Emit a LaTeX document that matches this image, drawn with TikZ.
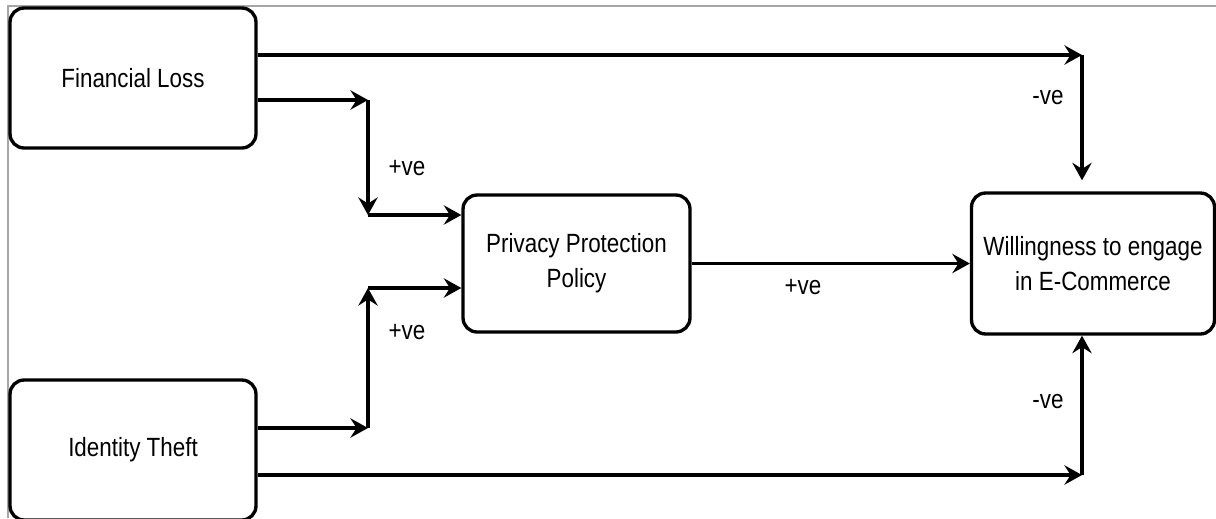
\documentclass[tikz,border=0pt]{standalone}
\usepackage{fontspec}
\setmainfont[FakeStretch=0.85]{Liberation Sans}
\usetikzlibrary{arrows.meta,positioning}

\begin{document}
\begin{tikzpicture}[
  x=0.02cm, y=-0.02cm,
  font=\fontsize{15}{20}\selectfont,
  >={Stealth[length=10pt, width=11pt, inset=3.5pt]},
  factor/.style={draw, line width=1.9pt, rounded corners=8pt, align=center, minimum width=4.92cm, minimum height=2.8cm, inner sep=2pt},
  outcome/.style={draw, line width=1.9pt, rounded corners=8pt, align=center, minimum width=4.54cm, minimum height=2.74cm, inner sep=2pt},
  link/.style={->, line width=1.9pt},
  sign/.style={inner sep=1pt}
]
  \useasboundingbox (0,0) rectangle (1216,518);
  \draw[black!35, line width=0.8pt] (8,518) -- (8,6) -- (1216,6);

  % Boxes
  \node[factor] (fin) at (133,78) {Financial Loss};
  \node[factor] (idt) at (133,450) {Identity Theft};
  \node[outcome] (ppp) at (576.5,263.5) {Privacy Protection\\Policy};
  \node[outcome, minimum width=4.86cm, minimum height=2.82cm] (will) at (1093,263.5) {Willingness to engage\\in E-Commerce};

  % Junction points
  \coordinate (jtop) at (1082,55);
  \coordinate (jbot) at (1082,475);
  \coordinate (jfin) at (368,100);
  \coordinate (jidt) at (368,428);
  \coordinate (jppt) at (368,215);
  \coordinate (jppb) at (368,288);

  % Direct paths to willingness
  \draw[link] (fin.east |- jtop) -- (jtop);
  \draw[link, shorten >=0.22cm] (jtop) -- (jtop |- will.north);
  \draw[link] (idt.east |- jbot) -- (jbot);
  \draw[link] (jbot) -- (jbot |- will.south);

  % Paths through privacy policy
  \draw[link] (fin.east |- jfin) -- (jfin);
  \draw[link] (jfin) -- (jppt);
  \draw[link] (jppt) -- (ppp.west |- jppt);
  \draw[link] (idt.east |- jidt) -- (jidt);
  \draw[link] (jidt) -- (jppb);
  \draw[link] (jppb) -- (ppp.west |- jppb);
  \draw[link] (ppp.east) -- (will.west);

  % Signs
  \node[sign] (sfin) at (407,168) {+ve};
  \node[sign] (sidt) at (407,332) {+ve};
  \node[sign] (sppp) at (803,287) {+ve};
  \node[sign] (stop) at (1048,98) {-ve};
  \node[sign] (sbot) at (1048,402) {-ve};
\end{tikzpicture}
\end{document}
